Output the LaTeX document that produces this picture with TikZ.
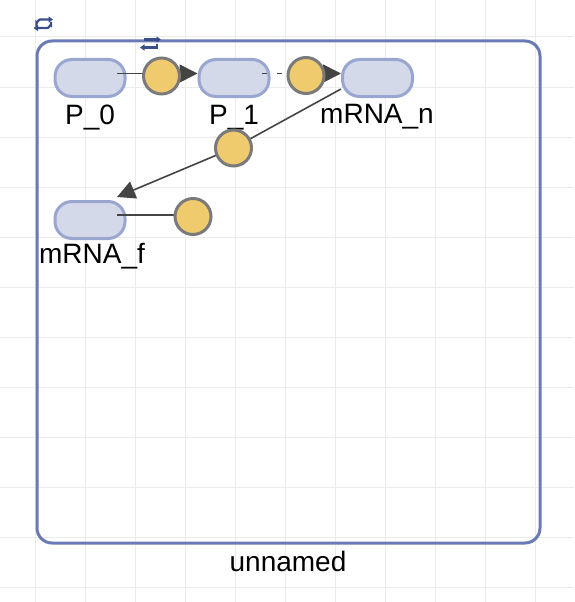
\documentclass[tikz,border=0pt]{standalone}
\usepackage{fontspec}
\setmainfont{Liberation Sans}
\usetikzlibrary{arrows.meta,calc}
\definecolor{gridc}{HTML}{EBEBEB}
\definecolor{contc}{HTML}{6A7AB6}
\definecolor{spfill}{HTML}{D4D9EA}
\definecolor{spdraw}{HTML}{98A6D0}
\definecolor{rxfill}{HTML}{F0CB6E}
\definecolor{rxdraw}{HTML}{7A7A7A}
\definecolor{edgec}{HTML}{444444}
\definecolor{iconc}{HTML}{3A4F8A}
\tikzset{
  species/.style={draw=spdraw, fill=spfill, line width=3pt, rectangle, rounded corners=17pt, minimum width=70pt, minimum height=37pt, inner sep=0pt},
  reaction/.style={draw=rxdraw, fill=rxfill, line width=3pt, circle, minimum size=36pt, inner sep=0pt},
  lbl/.style={font=\fontsize{28}{30}\selectfont, inner sep=0pt, anchor=base},
  edge/.style={draw=edgec, line width=1.6pt},
  arr/.style={edge, -{Triangle[length=18pt,width=18pt]}},
  container/.style={draw=contc, line width=3pt, rounded corners=15pt},
  icon/.style={draw=iconc, line width=2.2pt, -{Triangle[length=4.5pt,width=6pt]}}
}
\begin{document}
\begin{tikzpicture}[x=1pt,y=-1pt]
\useasboundingbox (0,0) rectangle (574,602);
% grid
\foreach \gx in {35,85,...,585} \draw[gridc, line width=1pt] (\gx,0) -- (\gx,602);
\foreach \gy in {37,87,...,587} \draw[gridc, line width=1pt] (0,\gy) -- (574,\gy);
% container
\draw[container] (37,41) rectangle (540,543);
\node[lbl] (cname) at (288,571) {unnamed};
% icons
\draw[icon] (36.5,26.5) -- (36.5,22.5) to[out=-90,in=180] (40,19.5) -- (53,19.5);
\draw[icon] (51,22) -- (51,25) to[out=90,in=0] (47.5,28) -- (33.5,28);
\draw[icon] (144,39.5) -- (161,39.5);
\draw[icon] (157,44.5) -- (157,47.5) -- (140,47.5);
% species
\node[species] (P0) at (90,78) {};
\node[species] (P1) at (234,78) {};
\node[species] (mRNAn) at (377.5,78) {};
\node[species] (mRNAf) at (90,220) {};
% labels
\node[lbl] (lP0) at (90,124) {P\_0};
\node[lbl] (lP1) at (234,124) {P\_1};
\node[lbl] (lmn) at (377,123) {mRNA\_n};
\node[lbl] (lmf) at (92,263) {mRNA\_f};
% reaction coordinates
\coordinate (c1p) at (161.5,76);
\coordinate (c2p) at (306,75.5);
\coordinate (c3p) at (233.5,148);
\coordinate (c4p) at (193,216.5);
% edges
\draw[edge] ($(P0.center)+(27,-4.5)$) -- (c1p |- {$(P0.center)+(0,-4.5)$});
\draw[arr] (c1p |- {$(P1.center)+(0,-4.5)$}) -- (P1.west |- {$(P1.center)+(0,-4.5)$});
\draw[edge, dash pattern=on 5pt off 10pt] ($(P1.center)+(28,-4.5)$) -- (c2p |- {$(P1.center)+(0,-4.5)$});
\draw[arr] (c2p |- {$(mRNAn.center)+(0,-4.5)$}) -- (mRNAn.west |- {$(mRNAn.center)+(0,-4.5)$});
\draw[edge] ($(mRNAn.center)+(-36.5,11)$) -- (c3p);
\draw[arr] (c3p) -- ($(mRNAf.center)+(27,-23)$);
\draw[edge] ($(mRNAf.center)+(27,-5)$) -- (c4p |- {$(mRNAf.center)+(0,-5)$});
% reactions
\node[reaction] (c1) at (c1p) {};
\node[reaction] (c2) at (c2p) {};
\node[reaction] (c3) at (c3p) {};
\node[reaction] (c4) at (c4p) {};
\end{tikzpicture}
\end{document}
